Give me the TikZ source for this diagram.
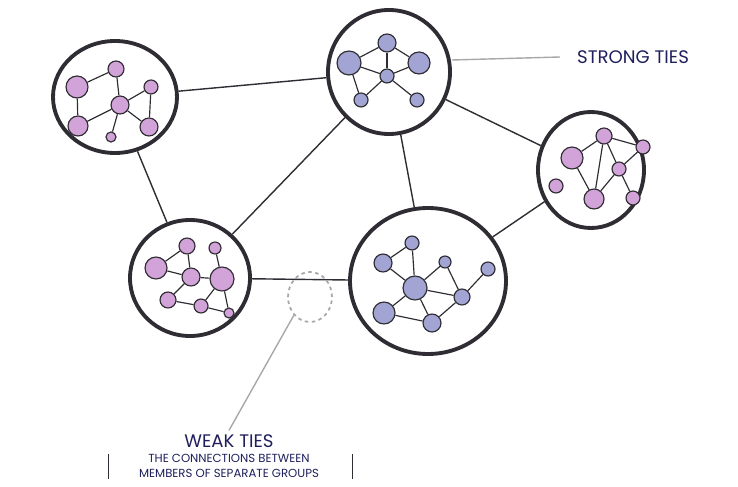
\documentclass[tikz,border=0pt]{standalone}
\usepackage{fontspec}
\setmainfont{Poppins}
\usetikzlibrary{shapes.geometric}
\definecolor{ink}{HTML}{2F2C33}
\definecolor{pk}{HTML}{D2A3D8}
\definecolor{bl}{HTML}{A2A4D3}
\definecolor{navy}{HTML}{1E1F5C}
\definecolor{gr}{HTML}{A8A8A8}
\begin{document}
\begin{tikzpicture}[x=0.03cm,y=-0.03cm,
  grp/.style={ellipse,draw=ink,line width=3.3pt,inner sep=0pt},
  pn/.style={circle,draw=ink,line width=1pt,fill=pk,inner sep=0pt,minimum size=#1*0.6mm},
  bn/.style={circle,draw=ink,line width=1pt,fill=bl,inner sep=0pt,minimum size=#1*0.6mm},
  tie/.style={draw=ink,line width=1.2pt},
  inl/.style={draw=ink,line width=1pt},
  lab/.style={text=navy,font=\fontsize{15.5}{17}\selectfont},
  sublab/.style={text=navy,font=\fontsize{10}{12.5}\selectfont,align=center}]
\useasboundingbox (0,0) rectangle (738,487);
% groups
\node[grp,minimum width=124*0.3mm,minimum height=112*0.3mm] (A) at (115,97) {};
\node[grp,minimum width=122*0.3mm,minimum height=124*0.3mm] (B) at (389,72) {};
\node[grp,minimum width=106*0.3mm,minimum height=116*0.3mm] (C) at (591,170) {};
\node[grp,minimum width=120*0.3mm,minimum height=116*0.3mm] (D) at (190,278) {};
\node[grp,minimum width=156*0.3mm,minimum height=146*0.3mm] (E) at (428,281) {};
% ties between groups
\draw[tie] (A) -- (B);
\draw[tie] (A) -- (D);
\draw[tie] (D) -- (B);
\draw[tie] (B) -- (E);
\draw[tie] (B) -- (C);
\draw[tie] (C) -- (E);
\draw[tie] (D) -- (E);
% group A
\node[pn=11] (a1) at (77,87) {};
\node[pn=8] (a2) at (116,69) {};
\node[pn=7] (a3) at (151,87) {};
\node[pn=9] (a4) at (120,105) {};
\node[pn=10] (a5) at (78,126) {};
\node[pn=9] (a6) at (149,127) {};
\node[pn=5] (a7) at (111,137) {};
\foreach \u/\v in {a1/a2,a1/a5,a2/a4,a4/a3,a3/a6,a4/a5,a4/a6,a4/a7} \draw[inl] (\u) -- (\v);
% group B
\node[bn=9] (b1) at (387,43) {};
\node[bn=12] (b2) at (349,63) {};
\node[bn=11] (b3) at (419,63) {};
\node[bn=7] (b4) at (387,76) {};
\node[bn=7] (b5) at (361,100) {};
\node[bn=7] (b6) at (417,100) {};
\foreach \u/\v in {b1/b2,b1/b3,b1/b4,b2/b4,b3/b4,b2/b5,b4/b5,b4/b6} \draw[inl] (\u) -- (\v);
% group C
\node[pn=8] (c1) at (604,136) {};
\node[pn=11] (c2) at (572,158) {};
\node[pn=7] (c3) at (643,147) {};
\node[pn=7] (c4) at (619,169) {};
\node[pn=7] (c5) at (556,186) {};
\node[pn=10] (c6) at (594,199) {};
\node[pn=7] (c7) at (633,198) {};
\foreach \u/\v in {c1/c2,c1/c3,c1/c6,c1/c4,c4/c3,c2/c6,c4/c6,c4/c7} \draw[inl] (\u) -- (\v);
% group D
\node[pn=8] (d1) at (187,246) {};
\node[pn=6] (d2) at (215,248) {};
\node[pn=11] (d3) at (156,268) {};
\node[pn=9] (d4) at (191,277) {};
\node[pn=12] (d5) at (222,279) {};
\node[pn=8] (d6) at (168,300) {};
\node[pn=7] (d7) at (201,306) {};
\node[pn=5] (d8) at (229,313) {};
\foreach \u/\v in {d1/d3,d1/d4,d3/d4,d4/d5,d2/d5,d4/d6,d6/d7,d7/d5,d5/d8,d7/d8} \draw[inl] (\u) -- (\v);
% group E
\node[bn=7] (e1) at (412,243) {};
\node[bn=9] (e2) at (383,263) {};
\node[bn=6] (e3) at (445,262) {};
\node[bn=7] (e4) at (488,269) {};
\node[bn=12] (e5) at (415,288) {};
\node[bn=8] (e6) at (462,297) {};
\node[bn=11] (e7) at (384,313) {};
\node[bn=9] (e8) at (432,323) {};
\foreach \u/\v in {e1/e2,e1/e5,e2/e5,e5/e3,e3/e6,e5/e6,e6/e4,e5/e7,e5/e8,e7/e8,e8/e6} \draw[inl] (\u) -- (\v);
% weak tie highlight
\node[ellipse,draw=gr,dashed,line width=1.5pt,minimum width=44*0.3mm,minimum height=50*0.3mm] (W) at (310,297) {};
% labels
\node[lab] (st) at (633,57) {STRONG TIES};
\coordinate (stl) at (560,57);
\coordinate (bs) at (452,60);
\draw[gr,line width=1.2pt] (bs) -- (stl);
\node[lab] (wt) at (229,441) {WEAK TIES};
\draw[gr,line width=1.2pt] (W.south west) -- (wt.north);
\node[sublab] (wd) at (229,466) {THE CONNECTIONS BETWEEN\\MEMBERS OF SEPARATE GROUPS};
\coordinate (l1) at (108,454); \coordinate (l2) at (108,479);
\coordinate (r1) at (352,454); \coordinate (r2) at (352,479);
\draw[ink,line width=0.8pt] (l1) -- (l2);
\draw[ink,line width=0.8pt] (r1) -- (r2);
\end{tikzpicture}
\end{document}
